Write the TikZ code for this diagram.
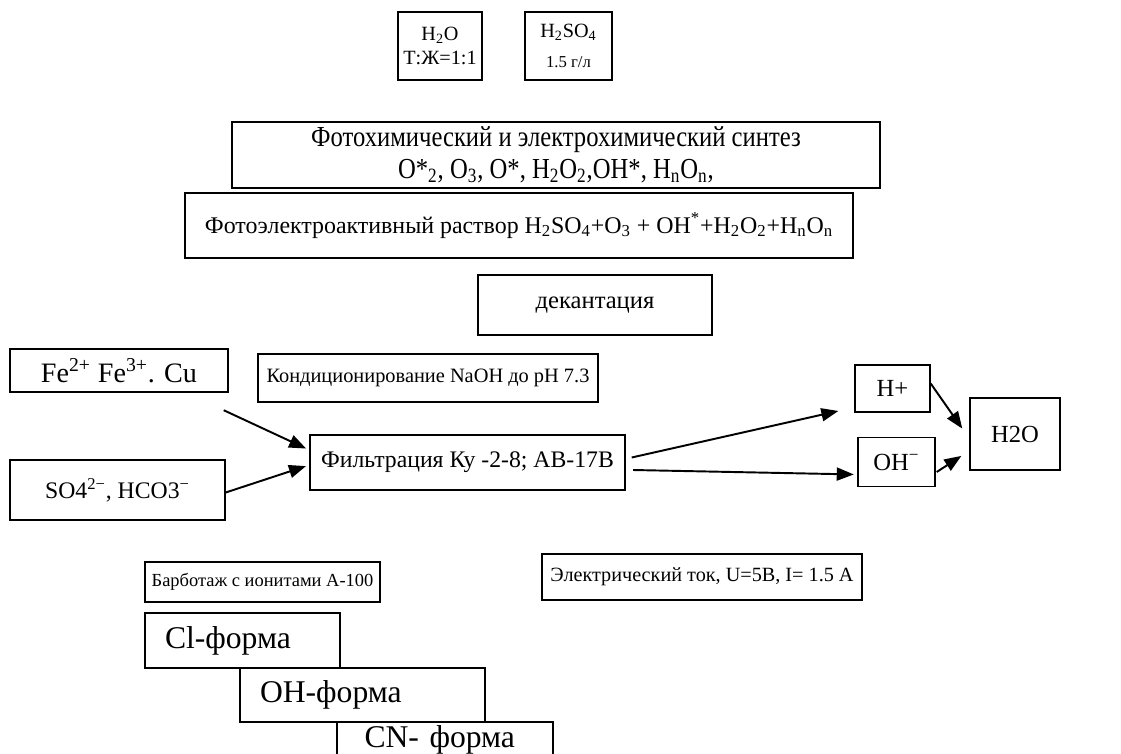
\documentclass[tikz,border=0pt]{standalone}
\usepackage{fontspec}
\setmainfont{Liberation Serif}
\newfontfamily\narrowfont{Liberation Serif}[FakeStretch=0.85]
\usetikzlibrary{arrows.meta}

\tikzset{
    box/.style={draw, line width=0.8pt, fill=white, inner sep=2pt, align=center},
    formbox/.style={box, align=left, inner xsep=0.4cm, font=\fontsize{18}{20}\selectfont},
    arr/.style={-{Triangle[length=0.34cm,width=0.26cm]}, line width=1.1pt, shorten >=2pt}
}

\begin{document}
\begin{tikzpicture}
        % Page
        \clip (0,0) rectangle (22.42,-15.06);

        % Feed components
        \node[box, minimum width=1.68cm, minimum height=1.36cm, font=\fontsize{11.5}{14}\selectfont] (water) at (8.8,-0.92) {H\textsubscript{2}O\\Т:Ж=1:1};
        \node[box, minimum width=1.74cm, minimum height=1.36cm, font=\fontsize{11.5}{14}\selectfont] (acid) at (11.37,-0.92) {H\textsubscript{2}SO\textsubscript{4}\\[3pt]{\fontsize{9.5}{10}\selectfont 1.5 г/л}};

        % Synthesis and solution
        \node[box, minimum width=12.96cm, minimum height=1.32cm, font=\narrowfont\fontsize{16.5}{18}\selectfont] (synth) at (11.12,-3.1) {Фотохимический и электрохимический синтез\\O*\textsubscript{2}, O\textsubscript{3}, O*, H\textsubscript{2}O\textsubscript{2},OH*, H\textsubscript{n}O\textsubscript{n},};
        \node[box, minimum width=13.36cm, minimum height=1.3cm, font=\fontsize{13.6}{15}\selectfont] (sol) at (10.38,-4.51) {Фотоэлектроактивный раствор H\textsubscript{2}SO\textsubscript{4}+O\textsubscript{3} + OH\textsuperscript{*}+H\textsubscript{2}O\textsubscript{2}+H\textsubscript{n}O\textsubscript{n}};
        \node[box, minimum width=4.68cm, minimum height=1.2cm, font=\fontsize{14}{16}\selectfont] (dec) at (11.9,-6.1) {декантация};

        % Ions and conditioning
        \node[box, minimum width=4.36cm, minimum height=0.86cm, font=\fontsize{16}{18}\selectfont] (metal) at (2.38,-7.41) {Fe\textsuperscript{2+} Fe\textsuperscript{3+}. Cu};
        \node[box, minimum width=6.8cm, minimum height=0.96cm, font=\fontsize{11.6}{13}\selectfont] (cond) at (8.56,-7.56) {Кондиционирование NaOH до pH 7.3};
        \node[box, minimum width=4.3cm, minimum height=1.2cm, font=\fontsize{13.5}{15}\selectfont] (anion) at (2.35,-9.8) {SO4\textsuperscript{2−}, HCO3\textsuperscript{−}};
        \node[box, minimum width=6.3cm, minimum height=1.1cm, font=\fontsize{13.5}{16}\selectfont] (filt) at (9.35,-9.25) {Фильтрация Ку -2-8; АВ-17В};

        % Products
        \node[box, minimum width=1.5cm, minimum height=0.94cm, font=\fontsize{14}{16}\selectfont] (hplus) at (17.85,-7.77) {H+};
        \node[box, minimum width=1.54cm, minimum height=0.98cm, font=\fontsize{14}{16}\selectfont] (ohminus) at (17.93,-9.24) {OH\textsuperscript{−}};
        \node[box, minimum width=1.8cm, minimum height=1.44cm, font=\fontsize{14}{16}\selectfont] (pure) at (20.3,-8.68) {H2O};

        % Conditions
        \node[box, minimum width=4.7cm, minimum height=0.8cm, font=\fontsize{10.5}{12}\selectfont] (barb) at (5.25,-11.64) {Барботаж с ионитами А-100};
        \node[box, minimum width=6.4cm, minimum height=0.92cm, font=\fontsize{11.5}{13}\selectfont] (curr) at (14.04,-11.54) {Электрический ток, U=5B, I= 1.5 A};

        % Resin forms
        \node[formbox, text width=3.1cm, minimum height=1.1cm] (clform) at (4.85,-12.81) {Cl-форма};
        \node[formbox, text width=4.1cm, minimum height=1.08cm] (ohform) at (7.25,-13.9) {OH-форма};
        \node[formbox, text width=3.22cm, minimum height=0.68cm, inner xsep=0.55cm] (cnform) at (8.9,-14.8) {CN- форма};

        % Arrows
        \draw[arr] ([xshift=-0.1cm,yshift=-0.35cm]metal.south east) -- ([yshift=0.25cm]filt.west);
        \draw[arr] ([yshift=-0.05cm]anion.east) -- ([yshift=-0.05cm]filt.west);
        \draw[arr] ([xshift=0.12cm,yshift=0.1cm]filt.east) -- ([xshift=-0.25cm,yshift=0.05cm]hplus.south west);
        \draw[arr] ([xshift=0.15cm,yshift=-0.15cm]filt.east) -- ([yshift=-0.25cm]ohminus.west);
        \draw[arr] ([yshift=0.1cm]hplus.east) -- ([xshift=-0.1cm,yshift=0.05cm]pure.west);
        \draw[arr] ([xshift=0.02cm,yshift=-0.2cm]ohminus.east) -- ([xshift=-0.1cm,yshift=-0.4cm]pure.west);
\end{tikzpicture}
\end{document}
